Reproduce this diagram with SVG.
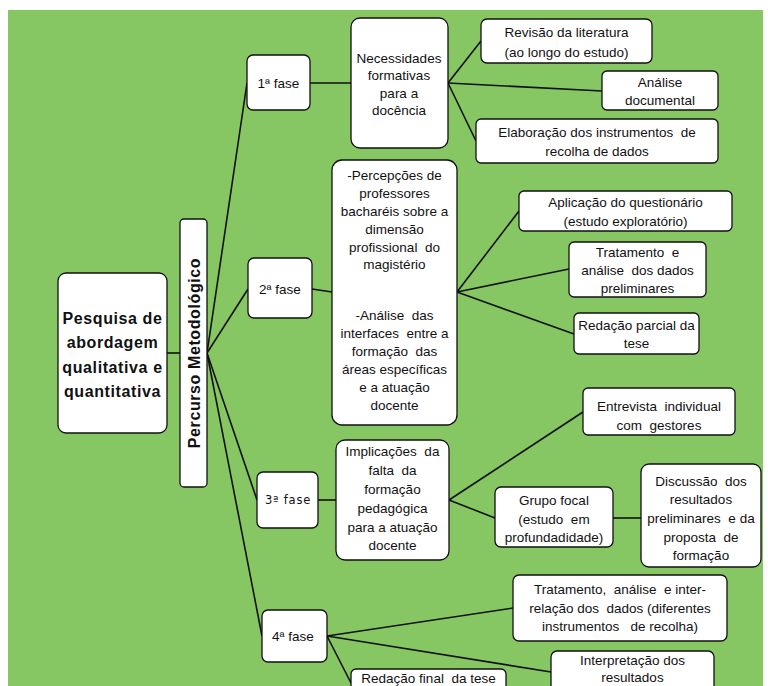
<svg xmlns="http://www.w3.org/2000/svg" width="768" height="686" viewBox="0 0 768 686">
<style>
.box{fill:#fff;stroke:#111;stroke-width:1.3}
.t{font-family:"Liberation Sans",Arial,sans-serif;font-size:13.5px;fill:#111;text-anchor:middle}
.b{font-family:"Liberation Sans",Arial,sans-serif;font-size:16px;font-weight:bold;fill:#111;text-anchor:middle;letter-spacing:0.6px}
.m{font-family:"DejaVu Sans",sans-serif;font-size:11.5px;fill:#111;text-anchor:middle;letter-spacing:0.8px}
.c line{stroke:#111;stroke-width:1.6}
</style>
<rect x="0" y="0" width="768" height="686" fill="#fff"/>
<rect x="8" y="10" width="755" height="676" fill="#86C663"/>
<g class="c" id="connectors">
<line x1="167" y1="353" x2="180" y2="353"/>
<line x1="207" y1="353" x2="247" y2="83"/>
<line x1="207" y1="353" x2="248" y2="289"/>
<line x1="207" y1="353" x2="257" y2="500"/>
<line x1="207" y1="353" x2="262" y2="636"/>
<line x1="310" y1="83" x2="351" y2="83"/>
<line x1="448" y1="83" x2="481" y2="41"/>
<line x1="448" y1="83" x2="602" y2="91"/>
<line x1="448" y1="83" x2="476" y2="141"/>
<line x1="312" y1="289" x2="332" y2="292"/>
<line x1="457" y1="292" x2="519" y2="211"/>
<line x1="457" y1="292" x2="569" y2="269"/>
<line x1="457" y1="292" x2="574" y2="334"/>
<line x1="318" y1="500" x2="336" y2="500"/>
<line x1="449" y1="500" x2="583" y2="412"/>
<line x1="449" y1="500" x2="495" y2="518"/>
<line x1="613" y1="518" x2="641" y2="518"/>
<line x1="327" y1="636" x2="513" y2="608"/>
<line x1="327" y1="636" x2="551" y2="672"/>
<line x1="327" y1="636" x2="351" y2="683"/>
</g>
<g id="root">
<rect class="box" x="58" y="273" width="109" height="160" rx="8"/>
<text class="b" x="112.5" y="324">Pesquisa de</text>
<text class="b" x="112.5" y="348">abordagem</text>
<text class="b" x="112.5" y="373">qualitativa e</text>
<text class="b" x="112.5" y="397">quantitativa</text>
</g>
<g id="percurso">
<rect class="box" x="180" y="219" width="27" height="268" rx="4"/>
<text class="b" x="0" y="0" transform="translate(200 353) rotate(-90)">Percurso Metodológico</text>
</g>
<g id="fase1">
<rect class="box" x="247" y="55" width="63" height="55" rx="6"/>
<text class="t" x="278.5" y="87.5">1ª fase</text>
</g>
<g id="necessidades">
<rect class="box" x="351" y="18" width="97" height="130" rx="9"/>
<text class="t" x="399" y="62.5">Necessidades</text>
<text class="t" x="399" y="80">formativas</text>
<text class="t" x="399" y="97.5">para a</text>
<text class="t" x="399" y="115">docência</text>
</g>
<g id="revisao">
<rect class="box" x="481" y="19" width="171" height="44" rx="6"/>
<text class="t" x="566.5" y="36.5">Revisão da literatura</text>
<text class="t" x="566.5" y="56.5">(ao longo do estudo)</text>
</g>
<g id="analise">
<rect class="box" x="602" y="71" width="116" height="39" rx="5"/>
<text class="t" x="660" y="86.5">Análise</text>
<text class="t" x="660" y="104.5">documental</text>
</g>
<g id="elaboracao">
<rect class="box" x="476" y="119" width="242" height="44" rx="5"/>
<text class="t" x="597" y="136.5" xml:space="preserve">Elaboração dos instrumentos  de</text>
<text class="t" x="597" y="155.5">recolha de dados</text>
</g>
<g id="fase2">
<rect class="box" x="248" y="258" width="64" height="60" rx="6"/>
<text class="t" x="280" y="293.5">2ª fase</text>
</g>
<g id="percepcoes">
<rect class="box" x="332" y="160" width="125" height="265" rx="10"/>
<text class="t" x="394.5" y="179.5">-Percepções de</text>
<text class="t" x="394.5" y="197.5">professores</text>
<text class="t" x="394.5" y="216">bacharéis sobre a</text>
<text class="t" x="394.5" y="233.5">dimensão</text>
<text class="t" x="394.5" y="251.5" xml:space="preserve">profissional  do</text>
<text class="t" x="394.5" y="269">magistério</text>
<text class="t" x="394.5" y="319.5" xml:space="preserve">-Análise  das</text>
<text class="t" x="394.5" y="337.5" xml:space="preserve">interfaces  entre a</text>
<text class="t" x="394.5" y="355.5" xml:space="preserve">formação  das</text>
<text class="t" x="394.5" y="373.5">áreas específicas</text>
<text class="t" x="394.5" y="391.5">e a atuação</text>
<text class="t" x="394.5" y="409.5">docente</text>
</g>
<g id="aplicacao">
<rect class="box" x="519" y="191" width="213" height="40" rx="5"/>
<text class="t" x="625.5" y="206.5">Aplicação do questionário</text>
<text class="t" x="625.5" y="225.5">(estudo exploratório)</text>
</g>
<g id="tratamento">
<rect class="box" x="569" y="242" width="137" height="55" rx="5"/>
<text class="t" x="637.5" y="256.5" xml:space="preserve">Tratamento  e</text>
<text class="t" x="637.5" y="274.5" xml:space="preserve">análise  dos dados</text>
<text class="t" x="637.5" y="292.5">preliminares</text>
</g>
<g id="redacaoParcial">
<rect class="box" x="574" y="313" width="125" height="41" rx="5"/>
<text class="t" x="636.5" y="329.5">Redação parcial da</text>
<text class="t" x="636.5" y="347.5">tese</text>
</g>
<g id="fase3">
<rect class="box" x="257" y="472" width="61" height="56" rx="6"/>
<text class="m" x="288" y="504">3ª fase</text>
</g>
<g id="implicacoes">
<rect class="box" x="336" y="440" width="113" height="120" rx="9"/>
<text class="t" x="392.5" y="455.5" xml:space="preserve">Implicações  da</text>
<text class="t" x="392.5" y="474.5" xml:space="preserve">falta  da</text>
<text class="t" x="392.5" y="493.5">formação</text>
<text class="t" x="392.5" y="512.5">pedagógica</text>
<text class="t" x="392.5" y="531.5">para a atuação</text>
<text class="t" x="392.5" y="549.5">docente</text>
</g>
<g id="entrevista">
<rect class="box" x="583" y="388" width="152" height="47" rx="5"/>
<text class="t" x="659" y="410.5" xml:space="preserve">Entrevista  individual</text>
<text class="t" x="659" y="430" xml:space="preserve">com  gestores</text>
</g>
<g id="grupo">
<rect class="box" x="495" y="487" width="118" height="60" rx="6"/>
<text class="t" x="554" y="504.5">Grupo focal</text>
<text class="t" x="554" y="523.5" xml:space="preserve">(estudo  em</text>
<text class="t" x="554" y="542">profundadidade)</text>
</g>
<g id="discussao">
<rect class="box" x="641" y="464" width="120" height="103" rx="8"/>
<text class="t" x="701" y="485.5" xml:space="preserve">Discussão  dos</text>
<text class="t" x="701" y="504">resultados</text>
<text class="t" x="701" y="523" xml:space="preserve">preliminares  e da</text>
<text class="t" x="701" y="541.5" xml:space="preserve">proposta  de</text>
<text class="t" x="701" y="559.5">formação</text>
</g>
<g id="fase4">
<rect class="box" x="262" y="610" width="65" height="52" rx="6"/>
<text class="t" x="293" y="640.5">4ª fase</text>
</g>
<g id="tratamento4">
<rect class="box" x="513" y="575" width="214" height="66" rx="6"/>
<text class="t" x="620" y="593.5" xml:space="preserve">Tratamento,  análise  e inter-</text>
<text class="t" x="620" y="612.5" xml:space="preserve">relação dos  dados (diferentes</text>
<text class="t" x="620" y="630.5" xml:space="preserve">instrumentos   de recolha)</text>
</g>
<g id="interpretacao">
<rect class="box" x="551" y="651" width="163" height="50" rx="6"/>
<text class="t" x="632.5" y="665">Interpretação  dos</text>
<text class="t" x="632.5" y="682">resultados</text>
</g>
<g id="redacaoFinal">
<rect class="box" x="351" y="669" width="155" height="40" rx="5"/>
<text class="t" x="428.5" y="683" xml:space="preserve">Redação final  da tese</text>
</g>
</svg>
